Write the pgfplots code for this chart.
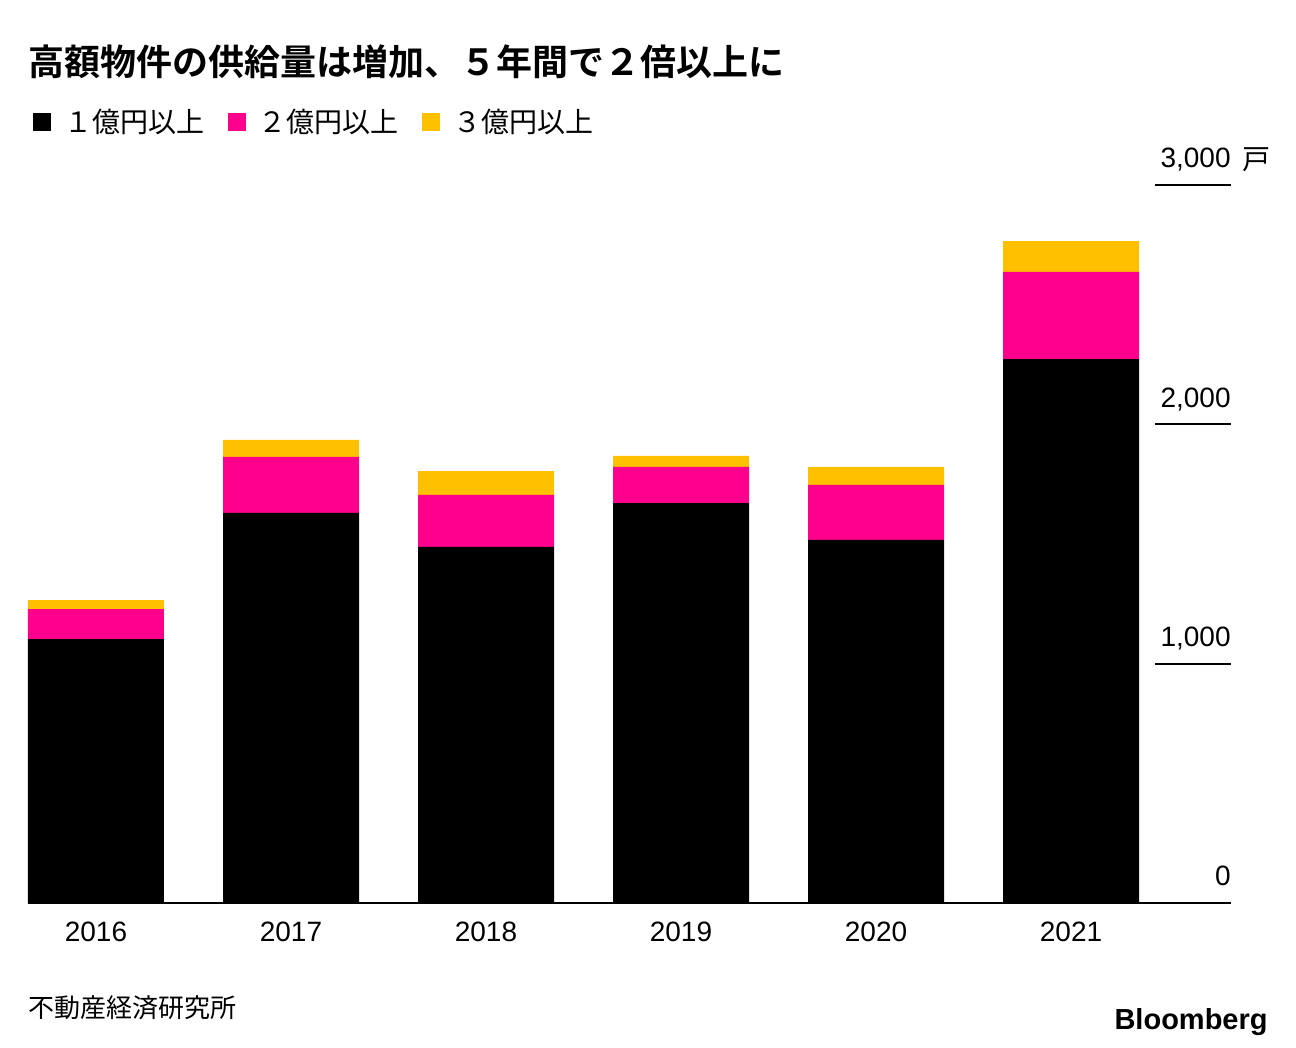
\documentclass[border=0pt]{standalone}
\usepackage{pgfplots}
\pgfplotsset{compat=1.18}
\usepackage{fontspec}
\setmainfont{Liberation Sans}
\newfontfamily\cjk{Noto Sans CJK JP}
\newfontfamily\cjkb{Noto Sans CJK JP}[BoldFont={* Bold}]
\definecolor{bbmag}{RGB}{255,0,140}
\definecolor{bbyel}{RGB}{255,192,0}
\pgfplotstableread{
x a b c
0 1103 125 38
1 1630 234 71
2 1488 217 100
3 1671 151 46
4 1517 230 75
5 2273 364 129
}\datatab
\begin{document}
\begin{tikzpicture}
\fill[white] (0,0) rectangle (648pt,-524pt);
\node[anchor=west,inner sep=0pt] at (14pt,-31pt) {\cjkb\bfseries\fontsize{18pt}{20pt}\selectfont 高額物件の供給量は増加、５年間で２倍以上に};
% legend
\fill[black] (16.5pt,-56.5pt) rectangle ++(9pt,-9pt);
\node[anchor=west,inner sep=0pt] at (32pt,-61pt) {\cjk\fontsize{14pt}{16pt}\selectfont １億円以上};
\fill[bbmag] (114pt,-56.5pt) rectangle ++(9pt,-9pt);
\node[anchor=west,inner sep=0pt] at (129pt,-61pt) {\cjk\fontsize{14pt}{16pt}\selectfont ２億円以上};
\fill[bbyel] (211pt,-56.5pt) rectangle ++(9pt,-9pt);
\node[anchor=west,inner sep=0pt] at (226.5pt,-61pt) {\cjk\fontsize{14pt}{16pt}\selectfont ３億円以上};
\begin{axis}[
  at={(14pt,-451.5pt)}, anchor=south west,
  scale only axis, width=601.5pt, height=359pt,
  xmin=-0.3487, xmax=5.8205, ymin=0, ymax=3000,
  ybar stacked, bar width=68pt,
  axis x line*=bottom, axis y line=none,
  x axis line style={-, line width=0.6pt},
  xtick=data, xticklabels={2016,2017,2018,2019,2020,2021},
  major tick length=0pt,
  xticklabel style={font=\fontsize{14pt}{16pt}\selectfont, yshift=-6pt},
  clip=false,
]
\addplot[fill=black, draw=none] table[x=x,y=a] {\datatab};
\addplot[fill=bbmag, draw=none] table[x=x,y=b] {\datatab};
\addplot[fill=bbyel, draw=none] table[x=x,y=c] {\datatab};
\foreach \v in {1000,2000,3000}{
  \edef\tmp{\noexpand\draw[line width=1pt] (axis cs:5.4308,\v) -- (axis cs:5.8205,\v);}\tmp
}
\node[anchor=south east, inner sep=0pt, font=\fontsize{14pt}{16pt}\selectfont] at (axis cs:5.8205,70) {0};
\node[anchor=south east, inner sep=0pt, font=\fontsize{14pt}{16pt}\selectfont] at (axis cs:5.8205,1055) {1,000};
\node[anchor=south east, inner sep=0pt, font=\fontsize{14pt}{16pt}\selectfont] at (axis cs:5.8205,2055) {2,000};
\node[anchor=south east, inner sep=0pt, font=\fontsize{14pt}{16pt}\selectfont] at (axis cs:5.8205,3055) {3,000};
\node[anchor=south west, inner sep=0pt, font=\cjk\fontsize{14pt}{16pt}\selectfont] at (axis cs:5.876,3055) {戸};
\end{axis}
\node[anchor=west,inner sep=0pt] at (14pt,-504pt) {\cjk\fontsize{13pt}{15pt}\selectfont 不動産経済研究所};
\node[anchor=east,inner sep=0pt] at (634pt,-511pt) {\bfseries\fontsize{14.5pt}{16pt}\selectfont Bloomberg};
\end{tikzpicture}
\end{document}
